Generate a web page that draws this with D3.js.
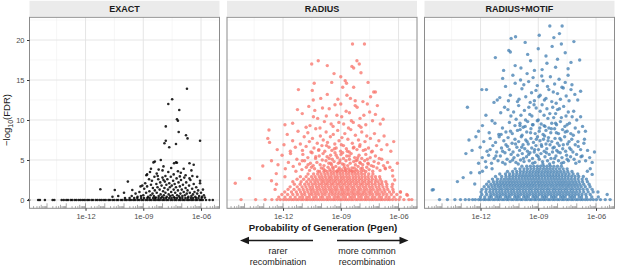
<!DOCTYPE html>
<html>
<head>
<meta charset="utf-8">
<script src="https://cdn.jsdelivr.net/npm/d3@7"></script>
<style>
  body { margin: 0; background: #fff; }
  svg text { font-family: "Liberation Sans", Arial, Helvetica, sans-serif; }
</style>
</head>
<body>
<div id="chart"></div>
<script>
// facets
const panels = ['EXACT', 'RADIUS', 'RADIUS+MOTIF']
const panelColors = ['#000000', '#F8766D', '#4682B4']

// axes
const xTickExp = [-12, -9, -6]
const xTickLabels = ['1e-12', '1e-09', '1e-06']
const xMinorExp = [-13.5, -10.5, -7.5]
const yTicks = [0, 5, 10, 15, 20]
const yMinor = [2.5, 7.5, 12.5, 17.5, 22.5]

// x = log10(Pgen), y = -log10(FDR)
// EXACT: points sitting on FDR = 0
const exactZero = [-14.93, -14.46, -14.37, -14.11, -13.71, -13.62, -13.24, -13.13, -13.0, -12.91, -12.77, -12.69, -12.56, -12.47, -12.35, -12.25, -12.14, -12.04, -11.91, -11.82, -11.69, -11.61, -11.47, -11.38, -11.26, -11.16, -11.04, -10.95, -10.81, -10.73, -10.6, -10.51, -10.38, -10.3, -10.16, -10.08, -9.95, -9.86, -9.73, -9.64, -9.52, -9.43, -9.3, -9.21, -9.09, -9.0, -8.87, -8.78, -8.66, -8.57, -8.44, -8.35, -8.23, -8.14, -8.01, -7.92, -7.8, -7.71, -7.58, -7.49, -7.37, -7.28, -7.15, -7.06, -6.94, -6.85, -6.72, -6.63, -6.51, -6.42, -6.29, -6.21, -6.08, -6.0, -5.91, -5.74, -5.56, -5.39]
const exactLow = [-9.95, -9.71, -9.47, -9.31, -9.11, -8.96, -8.79, -8.67, -8.49, -8.38, -8.21, -8.09, -7.94, -7.81, -7.65, -7.53, -7.37, -7.25, -7.09, -6.97, -6.81, -6.69, -6.53, -6.41, -6.25, -6.13, -5.97]
const exactPts = [
  [-7.7, 12.0], [-7.5, 12.6], [-7.13, 11.25], [-6.73, 13.9], [-7.25, 10.1], [-7.83, 9.2], [-7.2, 9.9], [-7.16, 8.5],
  [-6.78, 8.1], [-6.7, 7.7], [-6.05, 7.4], [-7.83, 7.4], [-7.9, 7.1], [-7.65, 6.6], [-7.3, 7.0],
  [-8.47, 4.7], [-8.4, 4.8], [-8.09, 5.0], [-7.4, 4.6], [-7.3, 4.7], [-7.25, 4.65], [-6.6, 4.6], [-6.38, 4.4],
  [-8.84, 3.1], [-8.8, 3.2], [-7.95, 4.2], [-8.2, 3.8], [-7.7, 3.5], [-7.2, 3.6], [-7.05, 3.4], [-6.9, 3.9],
  [-6.5, 3.7], [-8.6, 3.9], [-7.55, 4.0], [-6.8, 3.1], [-6.2, 2.9], [-6.05, 2.4], [-7.85, 3.0], [-8.3, 3.3], [-7.42, 3.2],
  [-11.23, 1.34], [-10.48, 1.25], [-9.8, 2.3], [-10.0, 0.9], [-9.57, 1.25], [-9.4, 0.8], [-9.14, 1.7],
  [-9.0, 0.6], [-8.95, 1.4], [-8.9, 2.1], [-8.85, 0.9], [-8.8, 1.7], [-8.75, 0.4], [-8.7, 2.6], [-8.68, 1.1],
  [-8.62, 0.6], [-8.6, 1.9], [-8.55, 2.4], [-8.52, 0.8], [-8.5, 1.5], [-8.45, 0.5], [-8.42, 2.9], [-8.4, 1.2],
  [-8.35, 0.3], [-8.32, 2.0], [-8.3, 0.9], [-8.26, 1.6], [-8.22, 2.6], [-8.2, 0.5], [-8.15, 1.3], [-8.12, 2.2],
  [-8.1, 0.7], [-8.05, 1.8], [-8.02, 0.4], [-8.0, 2.8], [-7.97, 1.1], [-7.93, 0.6], [-7.9, 1.5], [-7.88, 2.3],
  [-7.85, 0.9], [-7.8, 1.9], [-7.78, 0.4], [-7.75, 2.6], [-7.72, 1.3], [-7.68, 0.7], [-7.65, 2.1], [-7.62, 1.6],
  [-7.6, 0.5], [-7.57, 2.9], [-7.55, 1.0], [-7.52, 1.8], [-7.48, 0.6], [-7.45, 2.4], [-7.42, 1.3], [-7.4, 0.35],
  [-7.37, 2.0], [-7.34, 0.9], [-7.3, 1.6], [-7.27, 2.7], [-7.24, 0.6], [-7.2, 1.2], [-7.17, 2.2], [-7.14, 0.45],
  [-7.1, 1.7], [-7.07, 0.8], [-7.04, 2.5], [-7.0, 1.3], [-6.97, 0.5], [-6.94, 1.9], [-6.9, 1.0], [-6.87, 2.8],
  [-6.84, 0.6], [-6.8, 1.5], [-6.77, 2.2], [-6.74, 0.8], [-6.7, 1.2], [-6.66, 0.4], [-6.62, 1.8], [-6.58, 0.9],
  [-6.55, 2.5], [-6.5, 0.5], [-6.46, 1.4], [-6.42, 0.7], [-6.38, 2.0], [-6.34, 1.0], [-6.3, 0.4], [-6.25, 1.6],
  [-6.2, 0.8], [-6.15, 1.2], [-6.1, 0.5], [-6.05, 2.1], [-6.0, 0.9], [-5.95, 0.4], [-5.9, 1.3], [-5.85, 0.6],
  [-5.8, 0.3], [-9.3, 0.4], [-9.2, 1.0], [-9.12, 0.5], [-9.05, 1.8], [-10.3, 0.5], [-10.6, 0.4], [-9.6, 0.5],
  [-8.65, 3.5], [-8.0, 3.7], [-7.1, 2.95], [-6.45, 3.0], [-6.6, 2.7], [-7.95, 2.5], [-8.25, 3.0]
]

// RADIUS: dense lower band as rows [y, xs], the rest as points
const radiusRows = [
  [0.05, [-14.18, -13.42, -12.93, -12.58, -12.31, -12.14, -11.97, -11.83, -11.7, -11.56, -11.45, -11.31, -11.2, -11.06, -10.95, -10.81, -10.72, -10.59, -10.47, -10.36, -10.23, -10.11, -9.99, -9.87, -9.74, -9.64, -9.51, -9.39, -9.29, -9.16, -9.04, -8.94, -8.81, -8.7, -8.59, -8.46, -8.36, -8.22, -8.13, -8.0, -7.89, -7.76, -7.66, -7.53, -7.41, -7.31, -7.18, -7.07, -6.94, -6.84, -6.71, -6.57, -6.46, -6.31, -6.14, -5.97, -5.72, -5.46, -5.31]],
  [0.36, [-12.22, -11.9, -11.62, -11.37, -11.13, -10.98, -10.77, -10.63, -10.41, -10.27, -10.05, -9.93, -9.71, -9.57, -9.35, -9.21, -9.09, -8.89, -8.75, -8.53, -8.42, -8.28, -8.07, -7.93, -7.72, -7.58, -7.37, -7.23, -7.01, -6.88, -6.65, -6.49, -6.23, -5.91]],
  [0.68, [-12.06, -11.76, -11.49, -11.25, -11.02, -10.87, -10.63, -10.49, -10.31, -10.15, -9.96, -9.81, -9.61, -9.44, -9.29, -9.13, -8.97, -8.84, -8.69, -8.56, -8.39, -8.26, -8.11, -7.97, -7.83, -7.67, -7.49, -7.34, -7.14, -6.99, -6.79, -6.61, -6.37, -6.09, -5.57]],
  [1.0, [-11.91, -11.56, -11.31, -11.09, -10.89, -10.71, -10.53, -10.37, -10.21, -10.03, -9.87, -9.73, -9.54, -9.41, -9.25, -9.09, -8.92, -8.79, -8.63, -8.47, -8.34, -8.17, -8.04, -7.86, -7.73, -7.55, -7.41, -7.21, -7.06, -6.87, -6.71, -6.47, -6.26, -5.9]],
  [1.32, [-12.41, -11.74, -11.43, -11.16, -10.95, -10.75, -10.57, -10.43, -10.24, -10.09, -9.92, -9.78, -9.61, -9.47, -9.31, -9.18, -8.99, -8.87, -8.7, -8.57, -8.4, -8.27, -8.09, -7.96, -7.78, -7.64, -7.46, -7.31, -7.11, -6.96, -6.75, -6.56, -6.29]],
  [1.64, [-11.63, -11.26, -11.01, -10.81, -10.61, -10.46, -10.27, -10.13, -9.96, -9.81, -9.65, -9.51, -9.34, -9.21, -9.04, -8.91, -8.73, -8.61, -8.44, -8.31, -8.13, -8.0, -7.83, -7.69, -7.51, -7.36, -7.17, -7.01, -6.81, -6.61, -6.34]],
  [1.96, [-12.34, -11.41, -11.11, -10.87, -10.67, -10.47, -10.31, -10.13, -9.99, -9.82, -9.69, -9.51, -9.39, -9.21, -9.08, -8.91, -8.78, -8.61, -8.48, -8.3, -8.17, -7.99, -7.87, -7.69, -7.55, -7.37, -7.21, -7.01, -6.86, -6.61, -6.31]],
  [2.28, [-11.49, -11.06, -10.77, -10.56, -10.35, -10.19, -9.99, -9.86, -9.69, -9.55, -9.39, -9.26, -9.09, -8.96, -8.79, -8.65, -8.49, -8.35, -8.19, -8.05, -7.87, -7.74, -7.56, -7.41, -7.21, -7.06, -6.87, -6.66]],
  [2.6, [-11.27, -10.93, -10.66, -10.45, -10.27, -10.08, -9.93, -9.76, -9.6, -9.46, -9.29, -9.15, -8.98, -8.84, -8.67, -8.53, -8.36, -8.21, -8.04, -7.9, -7.72, -7.55, -7.36, -7.17, -6.95]],
  [2.92, [-11.1, -10.8, -10.52, -10.33, -10.12, -9.97, -9.8, -9.62, -9.49, -9.31, -9.17, -9.0, -8.86, -8.7, -8.55, -8.37, -8.22, -8.06, -7.9, -7.74, -7.58, -7.39, -7.2, -6.98]],
  [3.24, [-10.7, -10.41, -10.2, -10.02, -9.83, -9.67, -9.5, -9.36, -9.19, -9.03, -8.88, -8.71, -8.57, -8.4, -8.24, -8.09, -7.92, -7.76, -7.55, -7.33]],
  [3.56, [-10.1, -9.88, -9.7, -9.52, -9.37, -9.2, -9.06, -8.9, -8.73, -8.58, -8.43, -8.26, -8.1, -7.93, -7.7]]
]
const radiusPts = [
  [-14.48, 2.1], [-13.74, 2.7], [-5.9, 1.0], [-5.54, 0.6], [-12.35, 3.3], [-11.9, 2.9], [-12.6, 2.4], [-6.3, 3.0], [-6.2, 2.5],
  [-12.6, 4.9], [-12.26, 4.4], [-12.05, 5.6], [-11.88, 3.9], [-11.72, 4.7], [-11.61, 5.8], [-11.47, 4.2], [-11.33, 3.6],
  [-11.28, 5.1], [-11.14, 4.5], [-11.02, 3.8], [-10.97, 5.7], [-10.88, 4.9], [-10.79, 4.1], [-10.71, 5.3], [-10.62, 3.7],
  [-10.58, 4.6], [-10.49, 5.9], [-10.43, 4.3], [-10.36, 3.9], [-10.31, 5.2], [-10.24, 4.7], [-10.19, 3.6], [-10.12, 5.5],
  [-10.07, 4.4], [-10.01, 4.0], [-9.96, 5.0], [-9.92, 5.8], [-9.87, 4.3], [-9.81, 3.7], [-9.77, 4.9], [-9.71, 5.4],
  [-9.66, 4.1], [-9.62, 4.6], [-9.57, 3.8], [-9.53, 5.6], [-9.48, 4.4], [-9.44, 5.1], [-9.39, 3.9], [-9.35, 4.8],
  [-9.3, 5.9], [-9.26, 4.2], [-9.21, 3.6], [-9.17, 5.3], [-9.13, 4.6], [-9.08, 4.0], [-9.04, 5.0], [-8.99, 5.7],
  [-8.95, 3.8], [-8.91, 4.5], [-8.86, 5.2], [-8.82, 4.1], [-8.77, 3.7], [-8.73, 4.9], [-8.69, 5.5], [-8.64, 4.3],
  [-8.6, 3.9], [-8.55, 5.1], [-8.51, 4.6], [-8.46, 5.8], [-8.42, 4.0], [-8.37, 3.6], [-8.33, 4.8], [-8.28, 5.3],
  [-8.24, 4.4], [-8.19, 3.8], [-8.15, 5.0], [-8.1, 4.2], [-8.05, 5.6], [-8.01, 4.7], [-7.96, 3.9], [-7.91, 5.2],
  [-7.86, 4.4], [-7.81, 3.7], [-7.76, 4.9], [-7.7, 5.7], [-7.65, 4.1], [-7.59, 4.6], [-7.53, 3.8], [-7.47, 5.3],
  [-7.41, 4.3], [-7.34, 3.6], [-7.27, 4.8], [-7.2, 5.5], [-7.12, 4.0], [-7.04, 4.6], [-6.96, 3.7], [-6.87, 5.1],
  [-6.78, 4.3], [-6.68, 3.9], [-6.57, 4.7], [-6.45, 4.1], [-6.32, 3.7], [-6.06, 4.6], [-13.05, 4.25],
  [-10.52, 4.1], [-10.15, 6.2], [-9.9, 3.9], [-9.74, 6.8], [-9.52, 4.6], [-9.33, 6.4], [-9.12, 3.8], [-8.97, 6.9],
  [-8.83, 4.4], [-8.66, 6.1], [-8.49, 3.7], [-8.35, 6.5], [-8.21, 4.9], [-8.02, 6.7], [-7.88, 4.0], [-7.72, 6.3],
  [-7.57, 4.5], [-7.4, 6.0], [-9.6, 5.2], [-9.05, 4.7], [-8.56, 5.5], [-8.12, 5.3], [-7.62, 5.1], [-10.3, 5.4],
  [-9.42, 4.1], [-8.75, 3.9], [-8.3, 4.0], [-7.98, 4.6], [-9.24, 5.6], [-8.9, 5.9], [-10.7, 4.4], [-11.0, 4.9],
  [-7.3, 4.2], [-7.0, 5.2], [-6.7, 4.0],
  [-12.79, 7.7], [-12.7, 7.2], [-12.73, 8.75], [-12.3, 6.3], [-11.95, 6.9], [-11.78, 8.2], [-11.62, 6.1], [-11.5, 7.4],
  [-11.36, 6.6], [-11.22, 8.6], [-11.1, 7.0], [-10.99, 6.2], [-10.9, 7.9], [-10.8, 6.7], [-10.71, 8.4], [-10.63, 7.3],
  [-10.55, 6.0], [-10.47, 7.7], [-10.39, 6.5], [-10.3, 8.9], [-10.22, 7.1], [-10.14, 6.3], [-10.06, 8.0], [-9.98, 6.8],
  [-9.91, 7.5], [-9.83, 6.1], [-9.76, 8.5], [-9.69, 7.2], [-9.61, 6.6], [-9.54, 7.9], [-9.46, 6.2], [-9.39, 8.2],
  [-9.31, 7.0], [-9.24, 6.5], [-9.16, 8.7], [-9.09, 7.4], [-9.01, 6.1], [-8.94, 7.8], [-8.86, 6.8], [-8.79, 8.3],
  [-8.71, 6.4], [-8.63, 7.6], [-8.56, 6.0], [-8.48, 8.8], [-8.4, 7.1], [-8.32, 6.6], [-8.24, 8.1], [-8.16, 6.3],
  [-8.08, 7.5], [-8.0, 6.9], [-7.91, 8.5], [-7.83, 6.2], [-7.74, 7.3], [-7.65, 8.0], [-7.56, 6.5], [-7.46, 7.7],
  [-7.36, 6.1], [-7.25, 8.3], [-7.14, 6.8], [-7.02, 7.4], [-6.89, 6.3], [-6.75, 8.0], [-6.6, 6.9], [-6.4, 6.1], [-6.25, 7.3],
  [-11.9, 9.4], [-11.5, 9.6], [-11.25, 11.3], [-11.0, 10.8], [-10.8, 9.1], [-10.66, 11.7], [-10.6, 9.3], [-10.42, 10.4],
  [-10.35, 11.2], [-10.2, 10.2], [-10.08, 9.0], [-9.95, 11.5], [-9.85, 9.8], [-9.75, 10.5], [-9.6, 11.4], [-9.5, 9.5],
  [-9.4, 9.2], [-9.3, 11.9], [-9.2, 10.6], [-9.1, 9.7], [-9.0, 12.0], [-8.95, 10.4], [-8.85, 9.5], [-8.72, 11.1],
  [-8.6, 9.0], [-8.55, 10.9], [-8.45, 9.9], [-8.35, 9.7], [-8.25, 11.8], [-8.15, 11.6], [-8.05, 9.3], [-8.0, 10.2],
  [-7.95, 9.1], [-7.8, 10.6], [-7.7, 9.4], [-7.62, 12.0], [-7.5, 11.0], [-7.35, 9.9], [-7.2, 10.7], [-7.1, 11.8],
  [-6.95, 9.5], [-6.8, 10.1],
  [-10.43, 12.5], [-10.04, 12.7], [-8.68, 13.1], [-8.5, 12.7], [-7.85, 12.3], [-8.25, 12.4], [-9.7, 13.2], [-9.15, 12.6],
  [-7.45, 12.9], [-11.2, 13.8], [-10.48, 13.7], [-8.9, 14.1], [-8.33, 14.1], [-7.58, 14.7], [-7.29, 13.5], [-7.2, 13.5],
  [-10.38, 14.6], [-9.47, 14.7], [-8.77, 14.9], [-8.7, 14.6], [-9.35, 15.8], [-8.42, 16.7], [-8.33, 16.5], [-9.7, 16.8],
  [-10.51, 17.0], [-10.17, 17.4], [-8.16, 17.4], [-8.04, 17.0], [-8.39, 19.5], [-7.77, 19.5], [-9.0, 15.4], [-7.95, 15.9]
]

// RADIUS+MOTIF
const motifRows = [
  [0.05, [-14.13, -13.72, -13.33, -13.04, -12.79, -12.6, -12.41, -12.27, -12.1, -11.99, -11.84, -11.74, -11.6, -11.5, -11.36, -11.26, -11.12, -11.02, -10.88, -10.78, -10.64, -10.55, -10.4, -10.3, -10.16, -10.06, -9.92, -9.83, -9.68, -9.58, -9.44, -9.35, -9.2, -9.11, -8.97, -8.86, -8.73, -8.63, -8.49, -8.39, -8.25, -8.15, -8.01, -7.91, -7.77, -7.67, -7.53, -7.43, -7.29, -7.19, -7.05, -6.95, -6.81, -6.7, -6.56, -6.44, -6.29, -6.14, -5.98, -5.77, -5.52, -5.27]],
  [0.37, [-12.0, -11.78, -11.55, -11.43, -11.2, -11.07, -10.95, -10.72, -10.6, -10.47, -10.23, -10.11, -9.99, -9.76, -9.64, -9.51, -9.28, -9.16, -9.03, -8.8, -8.68, -8.56, -8.32, -8.2, -8.08, -7.84, -7.72, -7.6, -7.36, -7.24, -7.11, -6.88, -6.75, -6.5, -6.22, -5.88]],
  [0.69, [-11.93, -11.68, -11.47, -11.31, -11.15, -10.99, -10.84, -10.69, -10.52, -10.37, -10.21, -10.05, -9.9, -9.74, -9.58, -9.43, -9.27, -9.12, -8.95, -8.8, -8.64, -8.48, -8.33, -8.17, -8.01, -7.86, -7.7, -7.54, -7.39, -7.23, -7.07, -6.91, -6.73, -6.53, -6.3, -5.42]],
  [1.01, [-11.97, -11.72, -11.52, -11.36, -11.19, -11.04, -10.89, -10.73, -10.58, -10.42, -10.27, -10.11, -9.96, -9.8, -9.65, -9.49, -9.34, -9.18, -9.03, -8.87, -8.72, -8.56, -8.41, -8.25, -8.1, -7.94, -7.79, -7.63, -7.48, -7.32, -7.17, -7.01, -6.84, -6.64, -6.41, -6.15]],
  [1.33, [-11.92, -11.7, -11.5, -11.33, -11.18, -11.01, -10.87, -10.7, -10.56, -10.4, -10.26, -10.09, -9.95, -9.79, -9.64, -9.48, -9.34, -9.17, -9.03, -8.87, -8.72, -8.56, -8.42, -8.25, -8.11, -7.95, -7.8, -7.64, -7.5, -7.33, -7.19, -7.02, -6.86, -6.67, -6.46, -6.2]],
  [1.65, [-11.81, -11.58, -11.4, -11.24, -11.07, -10.93, -10.77, -10.62, -10.47, -10.32, -10.17, -10.02, -9.87, -9.72, -9.56, -9.41, -9.26, -9.11, -8.95, -8.8, -8.65, -8.5, -8.34, -8.19, -8.04, -7.88, -7.73, -7.57, -7.42, -7.26, -7.1, -6.94, -6.77, -6.56, -6.31]],
  [1.97, [-11.68, -11.46, -11.28, -11.12, -10.96, -10.81, -10.66, -10.51, -10.36, -10.21, -10.06, -9.91, -9.76, -9.61, -9.46, -9.31, -9.16, -9.0, -8.85, -8.7, -8.55, -8.4, -8.25, -8.09, -7.94, -7.79, -7.64, -7.48, -7.33, -7.17, -7.01, -6.84, -6.64, -6.36]],
  [2.29, [-11.57, -11.33, -11.15, -10.99, -10.84, -10.69, -10.54, -10.39, -10.24, -10.09, -9.94, -9.79, -9.64, -9.49, -9.34, -9.19, -9.04, -8.89, -8.74, -8.59, -8.44, -8.29, -8.14, -7.99, -7.84, -7.69, -7.54, -7.38, -7.22, -7.06, -6.89, -6.7, -6.45]],
  [2.61, [-11.38, -11.12, -10.93, -10.76, -10.6, -10.45, -10.3, -10.15, -10.0, -9.85, -9.7, -9.55, -9.4, -9.25, -9.1, -8.95, -8.8, -8.65, -8.5, -8.35, -8.2, -8.05, -7.9, -7.75, -7.6, -7.44, -7.28, -7.11, -6.93, -6.72, -6.5]],
  [2.93, [-11.22, -10.9, -10.68, -10.5, -10.33, -10.17, -10.01, -9.86, -9.71, -9.56, -9.41, -9.26, -9.11, -8.96, -8.81, -8.66, -8.51, -8.36, -8.21, -8.06, -7.91, -7.76, -7.6, -7.44, -7.27, -7.09, -6.9, -6.66]],
  [3.25, [-11.0, -10.7, -10.49, -10.3, -10.12, -9.95, -9.79, -9.63, -9.47, -9.32, -9.16, -9.01, -8.85, -8.7, -8.54, -8.39, -8.23, -8.07, -7.92, -7.75, -7.58, -7.4, -7.19, -6.95]],
  [3.57, [-10.6, -10.33, -10.12, -9.93, -9.76, -9.59, -9.43, -9.27, -9.11, -8.96, -8.8, -8.64, -8.49, -8.33, -8.17, -8.01, -7.84, -7.66, -7.47, -7.25]],
  [3.89, [-10.2, -9.95, -9.74, -9.56, -9.38, -9.22, -9.05, -8.9, -8.73, -8.57, -8.41, -8.25, -8.08, -7.9, -7.71, -7.5]],
  [4.21, [-9.85, -9.6, -9.41, -9.23, -9.05, -8.88, -8.71, -8.54, -8.37, -8.19, -8.0, -7.8]]
]
const motifPts = [
  [-14.51, 1.25], [-14.45, 1.3], [-13.2, 2.3], [-5.9, 1.0], [-12.9, 2.8], [-12.5, 3.4], [-12.3, 2.0],
  [-6.3, 3.9], [-6.45, 3.6], [-6.2, 3.2], [-11.4, 3.9], [-11.7, 4.1], [-11.9, 3.6], [-12.05, 3.4],
  [-12.76, 5.8], [-12.6, 7.5], [-12.44, 6.2], [-12.24, 7.9], [-12.1, 4.6], [-12.02, 6.6], [-11.91, 5.3], [-11.83, 7.3],
  [-11.74, 4.8], [-11.66, 6.1], [-11.58, 5.6], [-11.5, 7.7], [-11.43, 4.6], [-11.36, 6.8], [-11.29, 5.2], [-11.22, 7.2],
  [-11.16, 6.0], [-11.09, 4.9], [-11.03, 7.9], [-10.97, 5.5], [-10.91, 6.5], [-10.85, 4.7], [-10.79, 7.4], [-10.73, 5.9],
  [-10.68, 6.9], [-10.62, 5.1], [-10.57, 7.8], [-10.51, 6.3], [-10.46, 4.8], [-10.41, 5.7], [-10.36, 7.1], [-10.31, 6.0],
  [-10.26, 5.3], [-10.21, 7.6], [-10.16, 4.7], [-10.11, 6.6], [-10.06, 5.6], [-10.02, 7.3], [-9.97, 6.2], [-9.92, 5.0],
  [-9.88, 7.9], [-9.83, 5.8], [-9.79, 6.9], [-9.74, 4.8], [-9.7, 6.4], [-9.65, 7.5], [-9.61, 5.4], [-9.56, 6.1],
  [-9.52, 7.0], [-9.47, 4.9], [-9.43, 5.9], [-9.38, 7.7], [-9.34, 6.5], [-9.3, 5.2], [-9.25, 7.2], [-9.21, 6.0],
  [-9.17, 4.7], [-9.12, 6.8], [-9.08, 5.6], [-9.04, 7.9], [-8.99, 6.3], [-8.95, 5.1], [-8.91, 7.4], [-8.86, 5.8],
  [-8.82, 6.7], [-8.78, 4.8], [-8.73, 7.6], [-8.69, 6.1], [-8.65, 5.4], [-8.6, 7.0], [-8.56, 6.4], [-8.52, 4.9],
  [-8.47, 7.8], [-8.43, 5.7], [-8.39, 6.9], [-8.34, 5.2], [-8.3, 7.3], [-8.26, 6.0], [-8.21, 4.7], [-8.17, 6.6],
  [-8.13, 7.7], [-8.08, 5.5], [-8.04, 6.2], [-8.0, 7.1], [-7.95, 4.9], [-7.91, 6.8], [-7.86, 5.9], [-7.82, 7.5],
  [-7.77, 5.3], [-7.73, 6.4], [-7.68, 4.7], [-7.63, 7.9], [-7.58, 6.1], [-7.53, 5.6], [-7.48, 7.0], [-7.43, 4.9],
  [-7.37, 6.5], [-7.32, 5.4], [-7.26, 7.6], [-7.2, 6.0], [-7.14, 5.1], [-7.08, 6.9], [-7.01, 5.7], [-6.94, 7.3],
  [-6.87, 4.8], [-6.8, 6.3], [-6.72, 5.5], [-6.63, 7.1], [-6.54, 4.9], [-6.44, 6.2], [-6.33, 5.3], [-6.2, 4.7], [-6.08, 6.0],
  [-11.2, 5.5], [-10.93, 8.2], [-10.72, 4.5], [-10.6, 6.7], [-10.44, 8.6], [-10.33, 5.0], [-10.18, 7.0], [-10.04, 4.5],
  [-9.94, 8.8], [-9.86, 6.6], [-9.77, 5.2], [-9.68, 9.2], [-9.58, 7.3], [-9.5, 5.7], [-9.4, 8.4], [-9.29, 4.6],
  [-9.19, 6.3], [-9.1, 7.6], [-9.0, 5.4], [-8.92, 9.0], [-8.84, 6.9], [-8.76, 4.5], [-8.67, 8.0], [-8.58, 5.9],
  [-8.49, 7.4], [-8.41, 4.5], [-8.32, 8.9], [-8.24, 6.5], [-8.15, 5.2], [-8.06, 8.4], [-7.97, 6.0], [-7.88, 7.7],
  [-7.79, 4.6], [-7.7, 6.9], [-7.6, 8.5], [-7.5, 5.1], [-7.4, 7.3], [-7.3, 6.3], [-7.18, 8.1], [-7.05, 4.6],
  [-6.92, 6.7], [-6.78, 5.4], [-6.6, 7.6], [-10.85, 6.1], [-11.5, 6.3], [-9.3, 9.4], [-8.7, 9.3], [-8.1, 9.6],
  [-7.5, 9.4], [-9.95, 9.3],
  [-12.68, 11.6], [-12.1, 8.6], [-11.9, 9.3], [-11.72, 10.6], [-11.55, 8.4], [-11.4, 9.9], [-11.25, 9.6], [-11.13, 12.5],
  [-11.05, 8.2], [-10.95, 10.9], [-10.86, 9.0], [-10.75, 11.6], [-10.68, 8.5], [-10.58, 11.3], [-10.5, 9.7], [-10.42, 10.5],
  [-10.35, 8.3], [-10.28, 11.0], [-10.21, 9.3], [-10.15, 10.1], [-10.08, 8.7], [-10.02, 11.8], [-9.95, 9.6], [-9.9, 10.6],
  [-9.84, 8.1], [-9.78, 9.1], [-9.72, 11.2], [-9.66, 10.0], [-9.6, 8.5], [-9.55, 9.8], [-9.49, 11.6], [-9.44, 10.7],
  [-9.38, 8.9], [-9.33, 10.5], [-9.27, 9.4], [-9.22, 11.9], [-9.16, 8.3], [-9.11, 11.5], [-9.05, 9.9], [-9.0, 10.0],
  [-8.95, 8.6], [-8.9, 11.1], [-8.85, 9.5], [-8.8, 11.9], [-8.75, 8.2], [-8.7, 10.6], [-8.65, 9.2], [-8.6, 8.7],
  [-8.55, 11.4], [-8.5, 10.2], [-8.45, 9.0], [-8.4, 10.8], [-8.35, 8.4], [-8.3, 9.6], [-8.25, 11.6], [-8.2, 10.3],
  [-8.15, 8.9], [-8.1, 10.8], [-8.05, 9.4], [-8.0, 11.3], [-7.95, 8.3], [-7.9, 11.4], [-7.85, 9.8], [-7.8, 10.3],
  [-7.74, 8.8], [-7.68, 11.7], [-7.62, 9.2], [-7.56, 10.5], [-7.5, 8.6], [-7.44, 11.0], [-7.38, 9.6], [-7.31, 8.3],
  [-7.24, 10.4], [-7.16, 11.1], [-7.08, 9.0], [-7.0, 10.0], [-6.9, 8.5], [-6.8, 10.4], [-6.7, 9.2], [-6.55, 8.6],
  [-11.93, 13.8], [-11.69, 13.8], [-11.3, 12.2], [-11.0, 12.8], [-10.85, 15.2], [-10.7, 14.2], [-10.55, 12.4], [-10.45, 13.1],
  [-10.32, 15.6], [-10.2, 14.6], [-10.08, 12.3], [-10.0, 12.6], [-9.92, 15.0], [-9.85, 13.9], [-9.75, 14.4], [-9.65, 12.9],
  [-9.58, 15.8], [-9.5, 14.8], [-9.42, 12.2], [-9.35, 13.4], [-9.27, 15.3], [-9.2, 12.4], [-9.12, 13.7], [-9.05, 14.3],
  [-8.97, 12.9], [-8.9, 13.1], [-8.82, 15.5], [-8.75, 14.9], [-8.68, 12.5], [-8.6, 12.7], [-8.52, 14.2], [-8.45, 13.8],
  [-8.37, 15.4], [-8.3, 12.3], [-8.22, 13.5], [-8.15, 14.5], [-8.07, 12.1], [-8.0, 13.3], [-7.92, 15.1], [-7.85, 12.6],
  [-7.77, 14.1], [-7.7, 14.0], [-7.6, 14.7], [-7.55, 13.0], [-7.45, 15.6], [-7.4, 12.4], [-7.3, 13.8], [-7.25, 14.4],
  [-7.1, 13.2], [-6.95, 12.5], [-6.8, 13.6],
  [-8.4, 21.75], [-7.76, 21.75], [-10.41, 20.2], [-10.18, 20.4], [-8.19, 20.3], [-9.68, 19.7], [-10.53, 18.7], [-10.45, 18.5],
  [-7.15, 19.8], [-8.28, 19.2], [-11.23, 17.8], [-9.0, 18.9], [-8.6, 18.0], [-9.4, 17.4], [-7.6, 18.4], [-7.3, 17.2],
  [-9.9, 16.5], [-8.0, 17.6], [-8.8, 16.3], [-10.2, 16.8], [-8.55, 17.1], [-6.85, 17.5], [-7.8, 19.5], [-8.1, 16.6],
  [-9.2, 16.2], [-7.9, 20.8], [-9.55, 18.2], [-8.95, 20.6], [-7.45, 16.4], [-10.8, 16.2]
]

function rowsToPoints(rows) {
  let out = []
  rows.forEach((r) => {
    r[1].forEach((e) => out.push({ e: e, v: r[0] }))
  })
  return out
}

let panelData = [
  exactZero.map((e) => ({ e: e, v: 0 }))
    .concat(exactLow.map((e) => ({ e: e, v: 0.25 })))
    .concat(exactPts.map((p) => ({ e: p[0], v: p[1] }))),
  rowsToPoints(radiusRows).concat(radiusPts.map((p) => ({ e: p[0], v: p[1] }))),
  rowsToPoints(motifRows).concat(motifPts.map((p) => ({ e: p[0], v: p[1] })))
]

let svgWidth = 617,
  svgHeight = 266
let panelW = 190,
  panelH = 191
let panelX = [29.5, 227, 424.5]
let panelTop = 17.3

let svg = d3.select('#chart').append('svg').attr('width', svgWidth).attr('height', svgHeight)

let x = d3.scaleLog().domain([Math.pow(10, -14.91), Math.pow(10, -5.04)]).range([0, panelW])
let y = d3.scaleLinear().domain([-1.04, 22.84]).range([panelH, 0])

// log tick marks along the bottom of each panel
let logTicks = []
for (let d = -15; d <= -6; d++) {
  for (let k = 1; k <= 9; k++) {
    let v = k * Math.pow(10, d)
    if (v >= x.domain()[0] && v <= x.domain()[1]) logTicks.push({ v: v, k: k })
  }
}

panels.forEach((name, i) => {
  // strip
  svg.append('rect')
    .attr('x', panelX[i]).attr('y', 0.8)
    .attr('width', panelW).attr('height', 15.5)
    .attr('fill', '#ebebeb')
  svg.append('text')
    .attr('x', panelX[i] + panelW / 2).attr('y', 12.3)
    .attr('text-anchor', 'middle')
    .attr('font-size', '9px').attr('font-weight', 'bold').attr('fill', '#1a1a1a')
    .text(name)

  let g = svg.append('g').attr('transform', 'translate(' + panelX[i] + ',' + panelTop + ')')

  // grid
  g.selectAll('.gxm').data(xMinorExp).enter().append('line')
    .attr('x1', (d) => x(Math.pow(10, d))).attr('x2', (d) => x(Math.pow(10, d)))
    .attr('y1', 0).attr('y2', panelH)
    .attr('stroke', '#f0f0f0').attr('stroke-width', 0.6)
  g.selectAll('.gym').data(yMinor).enter().append('line')
    .attr('x1', 0).attr('x2', panelW)
    .attr('y1', (d) => y(d)).attr('y2', (d) => y(d))
    .attr('stroke', '#f0f0f0').attr('stroke-width', 0.6)
  g.selectAll('.gx').data(xTickExp).enter().append('line')
    .attr('x1', (d) => x(Math.pow(10, d))).attr('x2', (d) => x(Math.pow(10, d)))
    .attr('y1', 0).attr('y2', panelH)
    .attr('stroke', '#e3e3e3').attr('stroke-width', 0.9)
  g.selectAll('.gy').data(yTicks).enter().append('line')
    .attr('x1', 0).attr('x2', panelW)
    .attr('y1', (d) => y(d)).attr('y2', (d) => y(d))
    .attr('stroke', '#e3e3e3').attr('stroke-width', 0.9)

  // points
  g.append('g').selectAll('circle')
    .data(panelData[i])
    .enter()
    .append('circle')
    .attr('cx', (d) => x(Math.pow(10, d.e)))
    .attr('cy', (d) => y(d.v))
    .attr('r', i == 0 ? 1.3 : 1.7)
    .attr('fill', panelColors[i])
    .attr('fill-opacity', i == 0 ? 0.85 : 0.78)

  // log ticks
  g.selectAll('.lt').data(logTicks).enter().append('line')
    .attr('x1', (d) => x(d.v)).attr('x2', (d) => x(d.v))
    .attr('y1', panelH)
    .attr('y2', (d) => panelH - (d.k == 1 ? 5 : d.k == 5 ? 3.5 : 2.2))
    .attr('stroke', '#555').attr('stroke-width', 0.5)

  // border
  g.append('rect')
    .attr('width', panelW).attr('height', panelH)
    .attr('fill', 'none').attr('stroke', '#8c8c8c').attr('stroke-width', 1)

  // x axis
  let xAxis = d3.axisBottom(x)
    .tickValues(xTickExp.map((e) => Math.pow(10, e)))
    .tickFormat((d, j) => xTickLabels[j])
    .tickSize(2.5)
    .tickPadding(2.5)
  let xa = g.append('g').attr('transform', 'translate(0,' + panelH + ')').call(xAxis)
  xa.select('.domain').remove()
  xa.selectAll('line').attr('stroke', '#333')
  xa.selectAll('text').attr('font-size', '7.5px').attr('fill', '#4d4d4d')
    .style('font-family', '"Liberation Sans", Arial, sans-serif')

  if (i == 0) {
    let yAxis = d3.axisLeft(y).tickValues(yTicks).tickSize(2.5).tickPadding(2.5)
    let ya = g.append('g').call(yAxis)
    ya.select('.domain').remove()
    ya.selectAll('line').attr('stroke', '#333')
    ya.selectAll('text').attr('font-size', '7.5px').attr('fill', '#4d4d4d')
      .style('font-family', '"Liberation Sans", Arial, sans-serif')
  }
})

// y title
let yt = svg.append('text')
  .attr('transform', 'translate(10,120) rotate(-90)')
  .attr('text-anchor', 'middle')
  .attr('font-size', '9.5px').attr('fill', '#1a1a1a')
yt.append('tspan').text('\u2212log')
yt.append('tspan').attr('font-size', '7px').attr('dy', 2.5).text('10')
yt.append('tspan').attr('dy', -2.5).text('(FDR)')

// x title
svg.append('text')
  .attr('x', 323).attr('y', 231)
  .attr('text-anchor', 'middle')
  .attr('font-size', '9.7px').attr('font-weight', 'bold').attr('fill', '#1a1a1a')
  .text('Probability of Generation (Pgen)')

// arrows
let ay = 240.5
svg.append('line').attr('x1', 313).attr('x2', 246).attr('y1', ay).attr('y2', ay)
  .attr('stroke', '#1a1a1a').attr('stroke-width', 1.4)
svg.append('path').attr('d', 'M240,' + ay + 'L249,' + (ay - 3.8) + 'L249,' + (ay + 3.8) + 'Z').attr('fill', '#1a1a1a')
svg.append('line').attr('x1', 337).attr('x2', 402).attr('y1', ay).attr('y2', ay)
  .attr('stroke', '#1a1a1a').attr('stroke-width', 1.4)
svg.append('path').attr('d', 'M408.5,' + ay + 'L399.5,' + (ay - 3.8) + 'L399.5,' + (ay + 3.8) + 'Z').attr('fill', '#1a1a1a')

let notes = [
  { x: 278, lines: ['rarer', 'recombination'] },
  { x: 367, lines: ['more common', 'recombination'] }
]
notes.forEach((n) => {
  n.lines.forEach((t, j) => {
    svg.append('text')
      .attr('x', n.x).attr('y', 254 + j * 10.5)
      .attr('text-anchor', 'middle')
      .attr('font-size', '9px').attr('fill', '#1a1a1a')
      .text(t)
  })
})
</script>
</body>
</html>
